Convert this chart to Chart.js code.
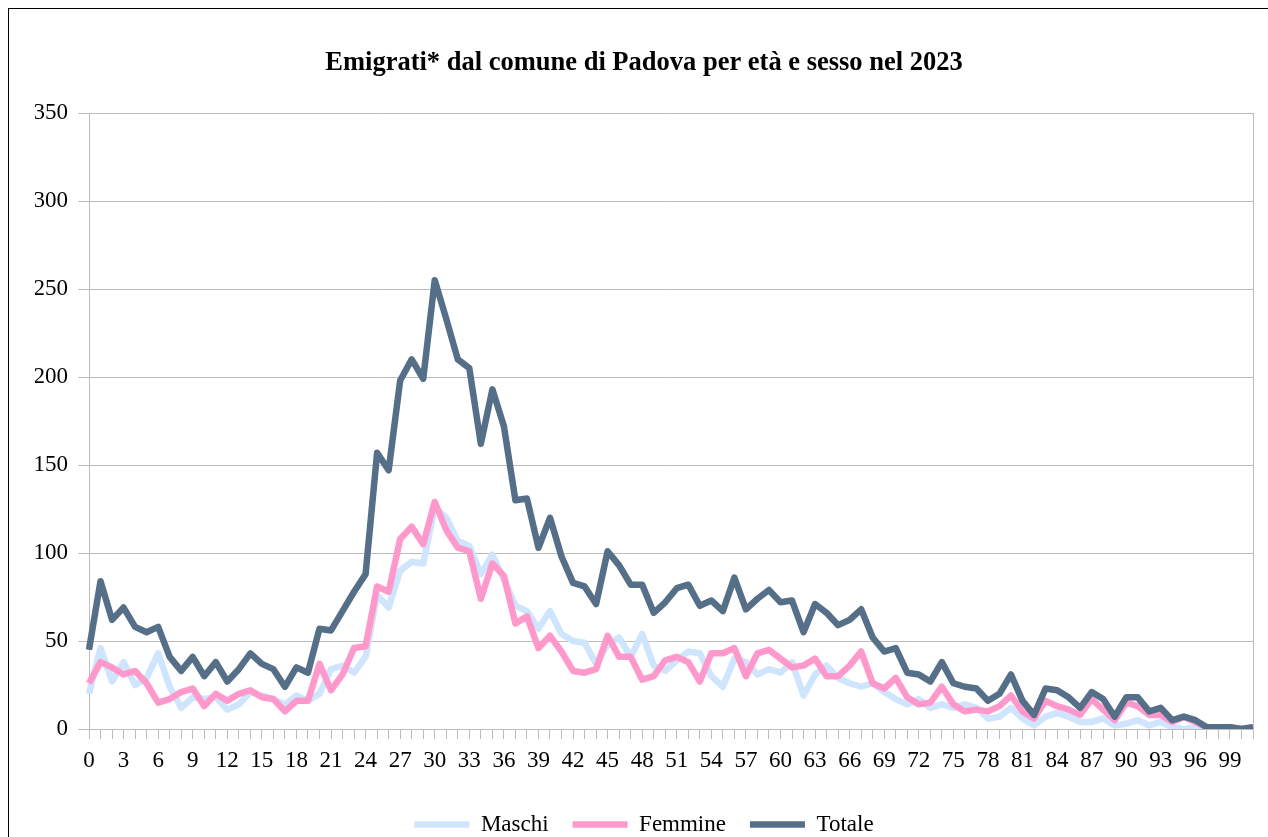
<!DOCTYPE html>
<html lang="it">
<head>
<meta charset="utf-8">
<title>Emigrati dal comune di Padova 2023</title>
<script src="https://cdn.jsdelivr.net/npm/chart.js@4/dist/chart.umd.min.js"></script>
<style>
  html, body { margin: 0; padding: 0; background: #fff; overflow: hidden; }
  .frame { position: absolute; left: 8px; top: 8px; width: 1400px; height: 1000px; border-left: 1px solid #000; border-top: 1px solid #000; }
  #chart { position: absolute; left: 8px; top: 0; }
</style>
</head>
<body>
<div class="frame"></div>
<canvas id="chart" width="1272" height="850"></canvas>
<script>
// età 0..101
const eta = []
for (let i = 0; i <= 101; i++) eta.push(String(i))

const maschi = [
  20, 46, 27, 38, 25, 29, 43, 24, 12, 18, 17, 18, 11, 14, 21, 19, 17, 14, 19, 16,
  20, 34, 36, 32, 41, 76, 69, 90, 95, 94, 126, 120, 107, 104, 88, 99, 85, 70, 67, 57,
  67, 54, 50, 49, 37, 48, 52, 41, 54, 36, 33, 39, 44, 43, 30, 24, 40, 38, 31, 34,
  32, 38, 19, 31, 36, 29, 26, 24, 26, 21, 17, 14, 17, 12, 14, 12, 14, 12, 6, 7,
  12, 6, 2, 7, 9, 7, 4, 4, 6, 2, 3, 5, 2, 4, 1, 0, 1, 0, 0, 0,
  0, 0
]

const femmine = [
  26, 38, 35, 31, 33, 26, 15, 17, 21, 23, 13, 20, 16, 20, 22, 18, 17, 10, 16, 16,
  37, 22, 31, 46, 47, 81, 78, 108, 115, 105, 129, 113, 103, 101, 74, 94, 87, 60, 64, 46,
  53, 44, 33, 32, 34, 53, 41, 41, 28, 30, 39, 41, 38, 27, 43, 43, 46, 30, 43, 45,
  40, 35, 36, 40, 30, 30, 36, 44, 26, 23, 29, 18, 14, 15, 24, 14, 10, 11, 10, 13,
  19, 10, 6, 16, 13, 11, 8, 17, 11, 5, 15, 13, 8, 8, 4, 7, 4, 1, 1, 1,
  0, 1
]

const totale = [
  45, 84, 62, 69, 58, 55, 58, 41, 33, 41, 30, 38, 27, 34, 43, 37, 34, 24, 35, 32,
  57, 56, 67, 78, 88, 157, 147, 198, 210, 199, 255, 233, 210, 205, 162, 193, 172, 130, 131, 103,
  120, 98, 83, 81, 71, 101, 93, 82, 82, 66, 72, 80, 82, 70, 73, 67, 86, 68, 74, 79,
  72, 73, 55, 71, 66, 59, 62, 68, 52, 44, 46, 32, 31, 27, 38, 26, 24, 23, 16, 20,
  31, 16, 8, 23, 22, 18, 12, 21, 17, 7, 18, 18, 10, 12, 5, 7, 5, 1, 1, 1,
  0, 1
]

const serif = '"Liberation Serif", "Times New Roman", serif'
const gridGrey = '#bcbcbc'

const line = (label, data, color, order) => ({
  label,
  data,
  borderColor: color,
  backgroundColor: color,
  borderWidth: 6.5,
  borderJoinStyle: 'round',
  pointRadius: 0,
  pointHoverRadius: 0,
  tension: 0,
  fill: false,
  order
})

new Chart(document.getElementById('chart'), {
  type: 'line',
  data: {
    labels: eta,
    datasets: [
      line('Maschi', maschi, '#cfe4fd', 3),
      line('Femmine', femmine, '#ff99cc', 2),
      line('Totale', totale, '#566f88', 1)
    ]
  },
  options: {
    responsive: false,
    animation: false,
    devicePixelRatio: 1,
    layout: { padding: { top: 30, left: 27, right: 27, bottom: 4 } },
    plugins: {
      tooltip: { enabled: false },
      title: {
        display: true,
        text: 'Emigrati* dal comune di Padova per età e sesso nel 2023',
        color: '#000',
        font: { family: serif, size: 26.5, weight: 'bold', lineHeight: 1.2 },
        padding: { top: 17, bottom: 34.2 }
      },
      legend: {
        position: 'bottom',
        labels: {
          color: '#000',
          font: { family: serif, size: 23 },
          usePointStyle: true,
          pointStyle: 'line',
          pointStyleWidth: 55,
          padding: 24,
          // keep dataset order (Maschi, Femmine, Totale)
          sort: (a, b) => a.datasetIndex - b.datasetIndex
        }
      }
    },
    scales: {
      x: {
        type: 'category',
        offset: false,
        afterFit: s => { s.height = 60 },
        border: { display: true, color: gridGrey, width: 1 },
        grid: {
          drawOnChartArea: true,
          color: ctx => ctx.index === eta.length - 1 ? gridGrey : 'rgba(0,0,0,0)',
          tickColor: gridGrey,
          tickLength: 10
        },
        ticks: {
          autoSkip: false,
          maxRotation: 0,
          padding: 8,
          color: '#000',
          font: { family: serif, size: 23 },
          callback: (v, i) => i % 3 === 0 ? eta[i] : ''
        }
      },
      y: {
        min: 0,
        max: 350,
        afterFit: s => { s.width = 54 },
        border: { display: true, color: gridGrey, width: 1 },
        grid: { color: gridGrey, tickColor: gridGrey, tickLength: 11 },
        ticks: {
          stepSize: 50,
          padding: 10,
          color: '#000',
          font: { family: serif, size: 23 }
        }
      }
    }
  }
})
</script>
</body>
</html>
